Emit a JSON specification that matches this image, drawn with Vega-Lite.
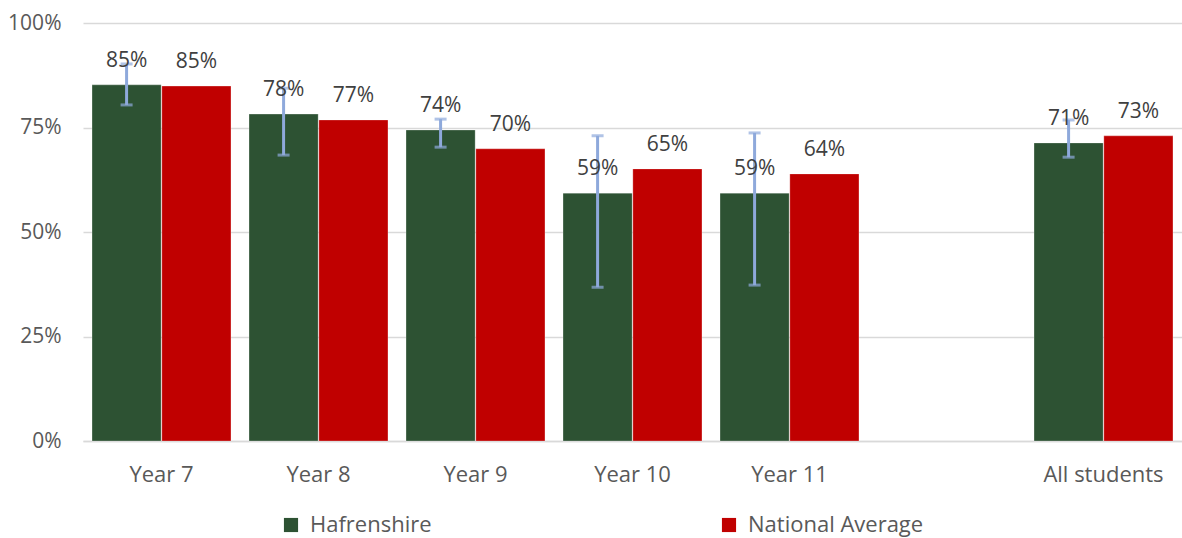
{
  "$schema": "https://vega.github.io/schema/vega-lite/v6.json",
  "width": 1099,
  "height": 418,
  "autosize": "none",
  "padding": {"left": 83, "top": 23, "right": 0, "bottom": 97},
  "background": "white",
  "config": {
    "font": "Open Sans",
    "view": {"stroke": null},
    "axis": {"labelFont": "Open Sans", "labelFontSize": 21, "labelColor": "#595959"},
    "legend": {"labelFont": "Open Sans"}
  },
  "data": {
    "values": [
      {"cat": "Year 7", "series": "Hafrenshire", "value": 0.852, "lo": 0.804, "hi": 0.902},
      {"cat": "Year 7", "series": "National Average", "value": 0.849},
      {"cat": "Year 8", "series": "Hafrenshire", "value": 0.782, "lo": 0.684, "hi": 0.844},
      {"cat": "Year 8", "series": "National Average", "value": 0.768},
      {"cat": "Year 9", "series": "Hafrenshire", "value": 0.744, "lo": 0.703, "hi": 0.770},
      {"cat": "Year 9", "series": "National Average", "value": 0.699},
      {"cat": "Year 10", "series": "Hafrenshire", "value": 0.593, "lo": 0.368, "hi": 0.730},
      {"cat": "Year 10", "series": "National Average", "value": 0.651},
      {"cat": "Year 11", "series": "Hafrenshire", "value": 0.593, "lo": 0.373, "hi": 0.737},
      {"cat": "Year 11", "series": "National Average", "value": 0.639},
      {"cat": "All students", "series": "Hafrenshire", "value": 0.713, "lo": 0.679, "hi": 0.768},
      {"cat": "All students", "series": "National Average", "value": 0.730}
    ]
  },
  "encoding": {
    "x": {
      "field": "cat",
      "type": "nominal",
      "scale": {
        "domain": ["Year 7", "Year 8", "Year 9", "Year 10", "Year 11", " ", "All students"],
        "paddingInner": 0.115,
        "paddingOuter": 0.0575
      },
      "axis": {
        "title": null,
        "labelAngle": 0,
        "ticks": false,
        "domainColor": "#D9D9D9",
        "domainWidth": 1.5,
        "labelPadding": 23,
        "labelFontSize": 22,
        "grid": false
      }
    },
    "xOffset": {
      "field": "series",
      "type": "nominal",
      "scale": {"domain": ["Hafrenshire", "National Average"], "paddingInner": 0.01}
    }
  },
  "layer": [
    {
      "mark": {"type": "bar", "stroke": "#ffffff", "strokeWidth": 0.5, "strokeOpacity": 0.5},
      "encoding": {
        "y": {
          "field": "value",
          "type": "quantitative",
          "scale": {"domain": [0, 1], "nice": false},
          "axis": {
            "title": null,
            "format": ".0%",
            "values": [0, 0.25, 0.5, 0.75, 1],
            "ticks": false,
            "domain": false,
            "labelPadding": 22,
            "gridColor": "#D9D9D9",
            "gridWidth": 1.5
          }
        },
        "color": {
          "field": "series",
          "type": "nominal",
          "scale": {"domain": ["Hafrenshire", "National Average"], "range": ["#2D5233", "#C00000"]},
          "legend": {
            "title": null,
            "orient": "none",
            "direction": "horizontal",
            "legendX": 197,
            "legendY": 491,
            "symbolType": "square",
            "symbolSize": 200,
            "symbolStrokeWidth": 0,
            "labelFontSize": 22,
            "labelColor": "#595959",
            "labelOffset": 8,
            "labelLimit": 400,
            "columnPadding": 286
          }
        }
      }
    },
    {
      "transform": [{"filter": "datum.series === 'Hafrenshire'"}],
      "mark": {"type": "rule", "color": "#8EA9DB", "strokeWidth": 3},
      "encoding": {
        "y": {"field": "lo", "type": "quantitative"},
        "y2": {"field": "hi"}
      }
    },
    {
      "transform": [{"filter": "datum.series === 'Hafrenshire'"}],
      "mark": {"type": "tick", "color": "#8EA9DB", "thickness": 3, "size": 12},
      "encoding": {"y": {"field": "lo", "type": "quantitative"}}
    },
    {
      "transform": [{"filter": "datum.series === 'Hafrenshire'"}],
      "mark": {"type": "tick", "color": "#8EA9DB", "thickness": 3, "size": 12},
      "encoding": {"y": {"field": "hi", "type": "quantitative"}}
    },
    {
      "mark": {"type": "text", "fontSize": 21, "color": "#404040", "baseline": "middle", "dy": -24, "font": "Open Sans"},
      "encoding": {
        "y": {"field": "value", "type": "quantitative"},
        "text": {"field": "value", "type": "quantitative", "format": ".0%"}
      }
    }
  ]
}
